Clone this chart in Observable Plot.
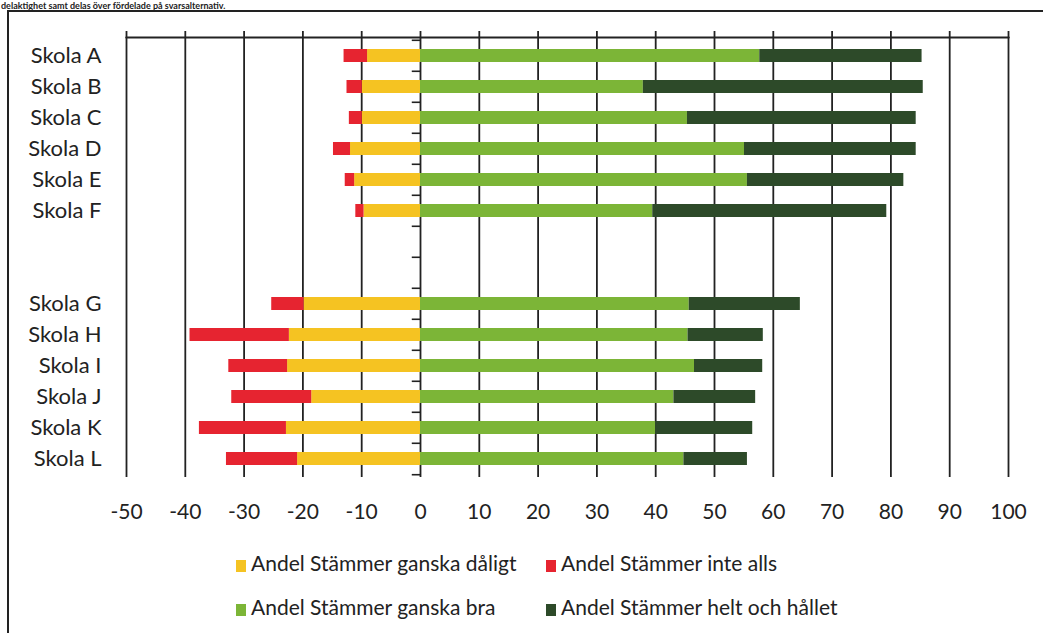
<!DOCTYPE html>
<html>
<head>
<meta charset="utf-8">
<script src="https://cdn.jsdelivr.net/npm/d3@7"></script>
<script src="https://cdn.jsdelivr.net/npm/@observablehq/plot@0.6"></script>
<style>
  html, body { margin: 0; padding: 0; background: #fff; overflow: hidden; }
  #wrap { position: relative; width: 1043px; height: 633px; overflow: hidden; font-family: Lato, "Open Sans", sans-serif; color: #222; }
  #topText { position: absolute; left: 1px; top: 1px; font-size: 9px; line-height: 9px; font-weight: 700; color: #222; white-space: nowrap; }
  #frame { position: absolute; left: 7px; top: 10px; width: 2000px; height: 2000px; border-left: 2px solid #222; border-top: 2px solid #222; pointer-events: none; }
  #chart { position: absolute; left: 0; top: 0; }
  .legend { position: absolute; font-size: 21px; color: #222; white-space: nowrap; }
  .legend .sw { display: inline-block; width: 10px; height: 12px; margin-right: 5px; vertical-align: -1px; }
</style>
</head>
<body>
<div id="wrap">
  <div id="topText">delaktighet samt delas över fördelade på svarsalternativ.</div>
  <div id="chart"></div>
  <div id="frame"></div>
</div>
<script>
// ---- data ----
const schools = ["Skola A","Skola B","Skola C","Skola D","Skola E","Skola F","gap1","gap2","Skola G","Skola H","Skola I","Skola J","Skola K","Skola L"];
const dataSchools = ["Skola A","Skola B","Skola C","Skola D","Skola E","Skola F","Skola G","Skola H","Skola I","Skola J","Skola K","Skola L"];
const ganskaDaligt = [9.0, 9.9, 9.9, 11.9, 11.2, 9.6, 19.8, 22.3, 22.6, 18.5, 22.8, 20.9];
const inteAlls     = [4.0, 2.6, 2.2, 2.9, 1.6, 1.4, 5.5, 16.9, 10.0, 13.6, 14.8, 12.1];
const ganskaBra    = [57.7, 37.9, 45.4, 55.1, 55.6, 39.5, 45.7, 45.5, 46.6, 43.1, 40.0, 44.8];
const heltHallet   = [27.6, 47.6, 38.9, 29.2, 26.6, 39.8, 18.9, 12.8, 11.6, 13.9, 16.5, 10.8];
const seriesNames = ["Andel Stämmer ganska dåligt","Andel Stämmer inte alls","Andel Stämmer ganska bra","Andel Stämmer helt och hållet"];
const seriesColors = ["#F5C322","#E62430","#7CB537","#2D4A29"];
const xTicks = [-50,-40,-30,-20,-10,0,10,20,30,40,50,60,70,80,90,100];

// ---- tidy rows ----
const rows = [];
dataSchools.forEach((s, i) => {
  rows.push({school: s, cat: seriesNames[0], value: -ganskaDaligt[i]});
  rows.push({school: s, cat: seriesNames[1], value: -inteAlls[i]});
  rows.push({school: s, cat: seriesNames[2], value: ganskaBra[i]});
  rows.push({school: s, cat: seriesNames[3], value: heltHallet[i]});
});

const W = 1043, H = 530, mT = 37, mB = 53, mL = 126, mR = 35;
const step = (H - mT - mB) / schools.length;
const ink = "#222";

const chart = Plot.plot({
  width: W, height: H,
  marginTop: mT, marginBottom: mB, marginLeft: mL, marginRight: mR,
  style: {background: "transparent", fontFamily: "Lato, 'Open Sans', sans-serif", color: ink},
  x: {domain: [-50, 100], ticks: xTicks},
  y: {domain: schools, paddingInner: 0.58, paddingOuter: 0.29},
  color: {domain: seriesNames, range: seriesColors},
  marks: [
    Plot.ruleX(xTicks, {stroke: ink, strokeWidth: 1.8}),
    Plot.barX(rows, Plot.stackX({x: "value", y: "school", fill: "cat", order: seriesNames})),
    Plot.ruleY(schools, {y: d => d, x1: -1.4, x2: 0, dy: -step / 2, stroke: ink, strokeWidth: 1.6}),
    Plot.ruleY([schools[schools.length - 1]], {y: d => d, x1: -1.4, x2: 0, dy: step / 2, stroke: ink, strokeWidth: 1.6}),
    Plot.frame({anchor: "top", stroke: ink, strokeWidth: 1.8}),
    Plot.axisX({anchor: "top", ticks: xTicks, tickSize: 7, tickFormat: () => "", label: null, stroke: ink, strokeWidth: 1.8}),
    Plot.axisX({anchor: "bottom", ticks: xTicks, tickSize: 0, tickPadding: 27, label: null, fontSize: 21, fill: ink, tickFormat: d => String(d)}),
    Plot.axisY({tickSize: 0, tickPadding: 25, label: null, fontSize: 22, fill: ink, tickFormat: d => d.startsWith("gap") ? "" : d})
  ]
});
document.getElementById("chart").appendChild(chart);

// ---- legend ----
const legendPos = [
  {left: 236, top: 550},
  {left: 546, top: 550},
  {left: 236, top: 594},
  {left: 546, top: 594}
];
seriesNames.forEach((name, i) => {
  const d = document.createElement("div");
  d.className = "legend";
  d.style.left = legendPos[i].left + "px";
  d.style.top = legendPos[i].top + "px";
  d.innerHTML = `<span class="sw" style="background:${seriesColors[i]}"></span>${name}`;
  document.getElementById("wrap").appendChild(d);
});
</script>
</body>
</html>
